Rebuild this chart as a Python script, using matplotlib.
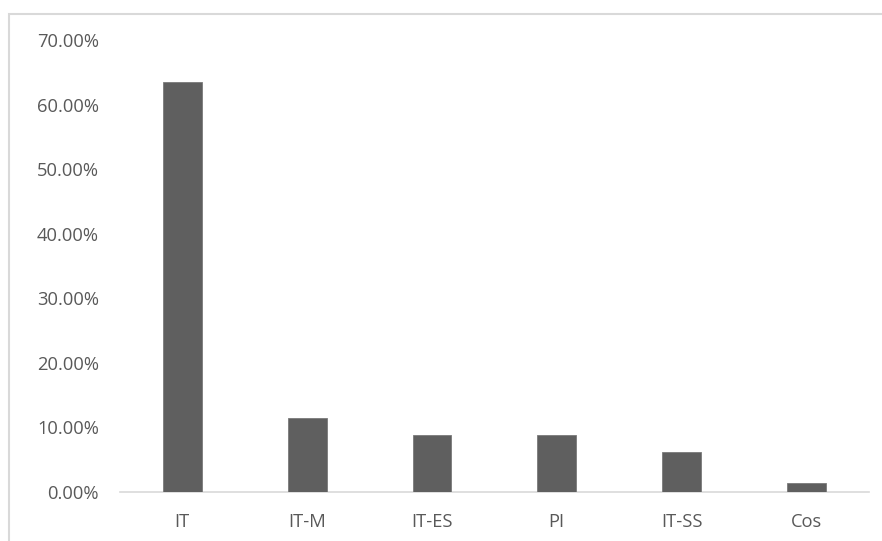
import matplotlib.pyplot as plt
from matplotlib.patches import Rectangle
from matplotlib.ticker import PercentFormatter

categories = ['IT', 'IT-M', 'IT-ES', 'PI', 'IT-SS', 'Cos']
counts = [94, 17, 13, 13, 9, 2]
total = sum(counts)
shares = [c / total * 100 for c in counts]

plt.rcParams['font.family'] = ['Open Sans', 'DejaVu Sans']

fig = plt.figure(figsize=(8.82, 5.41), dpi=100)
ax = fig.add_axes([0.136, 0.0911, 0.849, 0.8346])

x = range(len(categories))
ax.bar(x, shares, width=0.31, color='#5f5f5f', edgecolor='#7a7a7a', linewidth=0.6, zorder=3)

ax.set_ylim(0, 70)
ax.set_xlim(-0.5, len(categories) - 0.5)
ax.set_yticks(range(0, 71, 10))
ax.yaxis.set_major_formatter(PercentFormatter(decimals=2))
ax.set_xticks(list(x))
ax.set_xticklabels(categories)

for s in ['top', 'right', 'left']:
    ax.spines[s].set_visible(False)
ax.spines['bottom'].set_color('#d9d9d9')
ax.spines['bottom'].set_linewidth(1.2)

ax.tick_params(axis='y', length=0, pad=15, labelsize=13.2, labelcolor='#595959')
ax.tick_params(axis='x', length=0, pad=15, labelsize=13.2, labelcolor='#595959')

# chart area frame running off the right and bottom edges
fig.patches.append(Rectangle((9 / 882, -0.1), 1.2, 1 - 14 / 541 + 0.1,
                             transform=fig.transFigure, fill=False,
                             edgecolor='#d9d9d9', linewidth=1.5))

fig.savefig('out.png', dpi=100)
